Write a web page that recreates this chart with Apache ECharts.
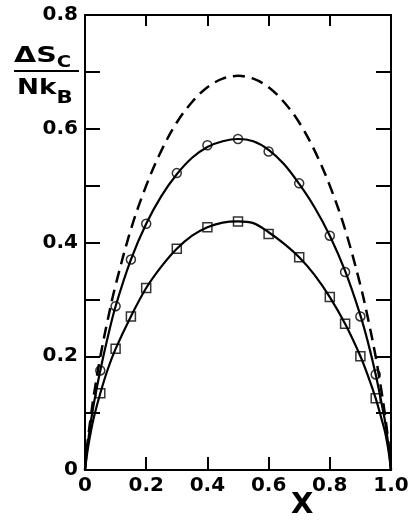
<!DOCTYPE html>
<html>
<head>
<meta charset="utf-8">
<script src="https://cdn.jsdelivr.net/npm/echarts@6/dist/echarts.min.js"></script>
<style>
html,body{margin:0;padding:0;background:#fff;}
#c{width:417px;height:521px;}
</style>
</head>
<body>
<div id="c"></div>
<script>
// ---- data ----
const curveX = [0, 0.005, 0.01, 0.02, 0.03, 0.05, 0.075, 0.1, 0.15, 0.2, 0.25, 0.3, 0.35, 0.4, 0.45, 0.5, 0.55, 0.6, 0.65, 0.7, 0.75, 0.8, 0.85, 0.9, 0.925, 0.95, 0.97, 0.98, 0.99, 0.995, 1.0];
const dashedY = [0, 0.031, 0.056, 0.098, 0.135, 0.199, 0.266, 0.325, 0.423, 0.500, 0.562, 0.611, 0.647, 0.673, 0.688, 0.693, 0.688, 0.673, 0.647, 0.611, 0.562, 0.500, 0.423, 0.325, 0.266, 0.199, 0.135, 0.098, 0.056, 0.031, 0];
const circleLineY = [0, 0.028, 0.05, 0.088, 0.12, 0.175, 0.235, 0.288, 0.37, 0.433, 0.482, 0.52, 0.549, 0.568, 0.578, 0.582, 0.578, 0.563, 0.538, 0.503, 0.462, 0.412, 0.35, 0.272, 0.224, 0.168, 0.115, 0.087, 0.05, 0.028, 0];
const squareLineY = [0, 0.022, 0.04, 0.07, 0.095, 0.135, 0.178, 0.213, 0.27, 0.32, 0.358, 0.389, 0.412, 0.427, 0.435, 0.437, 0.434, 0.418, 0.398, 0.374, 0.343, 0.304, 0.257, 0.2, 0.165, 0.126, 0.088, 0.068, 0.04, 0.022, 0];

const markX = [0.05, 0.1, 0.15, 0.2, 0.3, 0.4, 0.5, 0.6, 0.7, 0.8, 0.85, 0.9, 0.95];
const circleY = [0.175, 0.288, 0.37, 0.433, 0.522, 0.571, 0.582, 0.56, 0.504, 0.412, 0.348, 0.27, 0.168];
const squareY = [0.135, 0.213, 0.27, 0.32, 0.389, 0.427, 0.437, 0.415, 0.374, 0.304, 0.257, 0.2, 0.126];

const xTickLabels = ['0', '0.2', '0.4', '0.6', '0.8', '1.0'];
const yTickLabels = {'0': '0', '2': '0.2', '4': '0.4', '6': '0.6', '8': '0.8'};

// ---- build ----
const pairs = (xs, ys) => xs.map((x, i) => [x, ys[i]]);
const FONT = 'DejaVu Sans';
const lbl = {color: '#000', fontFamily: FONT, fontWeight: 'bold', fontSize: 20};

const chart = echarts.init(document.getElementById('c'), null, {renderer: 'canvas'});
const axisLine = {show: true, onZero: false, lineStyle: {color: '#000', width: 2}};

chart.setOption({
  animation: false,
  backgroundColor: '#fff',
  grid: {left: 85, right: 26, top: 15, bottom: 51},
  xAxis: [
    {type: 'value', min: 0, max: 1, interval: 0.2, position: 'bottom',
     axisLine: axisLine,
     axisTick: {show: true, inside: true, length: 13, lineStyle: {color: '#000', width: 2}},
     splitLine: {show: false},
     axisLabel: Object.assign({}, lbl, {margin: 6, formatter: v => xTickLabels[Math.round(v * 5)]})},
    {type: 'value', min: 0, max: 1, interval: 0.2, position: 'top',
     axisLine: axisLine,
     axisTick: {show: true, inside: true, length: 11, lineStyle: {color: '#000', width: 2}},
     splitLine: {show: false}, axisLabel: {show: false}}
  ],
  yAxis: [
    {type: 'value', min: 0, max: 0.8, interval: 0.1, position: 'left',
     axisLine: axisLine,
     axisTick: {show: true, inside: true, length: 15, lineStyle: {color: '#000', width: 2}},
     splitLine: {show: false},
     axisLabel: Object.assign({}, lbl, {margin: 7, formatter: v => {
        const k = String(Math.round(v * 10));
        return yTickLabels[k] !== undefined ? yTickLabels[k] : '';
     }})},
    {type: 'value', min: 0, max: 0.8, interval: 0.1, position: 'right',
     axisLine: axisLine,
     axisTick: {show: true, inside: true, length: 15, lineStyle: {color: '#000', width: 2}},
     splitLine: {show: false}, axisLabel: {show: false}}
  ],
  series: [
    {type: 'line', name: 'ideal', data: pairs(curveX, dashedY), symbol: 'none', smooth: 0.35,
     lineStyle: {color: '#000', width: 2.5, type: [12, 7]}},
    {type: 'line', name: 'circle fit', data: pairs(curveX, circleLineY), symbol: 'none', smooth: 0.35,
     lineStyle: {color: '#000', width: 2.2}},
    {type: 'line', name: 'square fit', data: pairs(curveX, squareLineY), symbol: 'none', smooth: 0.35,
     lineStyle: {color: '#000', width: 2.2}},
    {type: 'scatter', name: 'circles', data: pairs(markX, circleY), symbol: 'circle', symbolSize: 9,
     itemStyle: {color: 'rgba(0,0,0,0)', borderColor: '#000', borderWidth: 1.5}, z: 5},
    {type: 'scatter', name: 'squares', data: pairs(markX, squareY), symbol: 'rect', symbolSize: 9,
     itemStyle: {color: 'rgba(0,0,0,0)', borderColor: '#000', borderWidth: 1.5}, z: 5}
  ],
  graphic: [
    {type: 'text', x: 14, y: 45, scaleX: 1.3, style: {
      text: '{m|ΔS}{s|C}',
      rich: {
        m: {fontFamily: FONT, fontWeight: 'bold', fontSize: 22, fill: '#000', verticalAlign: 'bottom'},
        s: {fontFamily: FONT, fontWeight: 'bold', fontSize: 15, fill: '#000', verticalAlign: 'bottom', padding: [0, 0, -4, 0]}
      }}},
    {type: 'line', shape: {x1: 14, y1: 71, x2: 79, y2: 71}, style: {stroke: '#000', lineWidth: 2}},
    {type: 'text', x: 17, y: 78, scaleX: 1.25, style: {
      text: '{m|Nk}{s|B}',
      rich: {
        m: {fontFamily: FONT, fontWeight: 'bold', fontSize: 21, fill: '#000', verticalAlign: 'top'},
        s: {fontFamily: FONT, fontWeight: 'bold', fontSize: 17, fill: '#000', verticalAlign: 'top', padding: [12, 0, 0, 0]}
      }}},
    {type: 'text', x: 291, y: 491, style: {
      text: 'X', fontFamily: FONT, fontWeight: 'bold', fontSize: 29, fill: '#000'}}
  ]
});
</script>
</body>
</html>
